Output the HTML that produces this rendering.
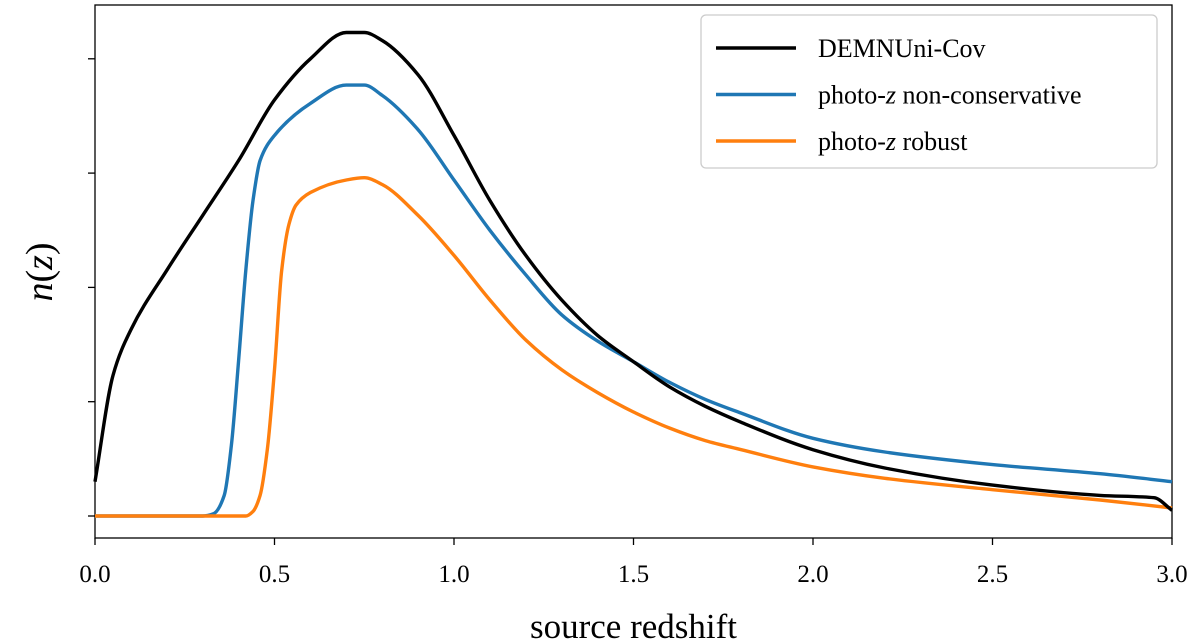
<!DOCTYPE html>
<html><head><meta charset="utf-8"><style>
html,body{margin:0;padding:0;background:#fff}
svg{display:block;font-family:"Liberation Serif",serif}
</style></head><body>
<svg id="chart" width="1200" height="644"></svg>
<script>
const zBlack=[0,0.05,0.1,0.2,0.3,0.4,0.5,0.6,0.7,0.75,0.8,0.9,1.0,1.1,1.2,1.3,1.4,1.5,1.6,1.7,1.8,2.0,2.2,2.5,2.8,2.95,3.0];
const nBlack=[0.30,1.23,1.63,2.15,2.63,3.11,3.64,4.0,4.23,4.23,4.16,3.86,3.33,2.76,2.28,1.89,1.58,1.35,1.13,0.96,0.82,0.58,0.42,0.27,0.18,0.16,0.05];
const zBlue=[0,0.3,0.33,0.36,0.38,0.4,0.42,0.44,0.46,0.5,0.6,0.7,0.75,0.8,0.9,1.0,1.1,1.2,1.3,1.4,1.5,1.6,1.7,1.8,2.0,2.2,2.5,2.8,3.0];
const nBlue=[0,0,0.02,0.18,0.62,1.36,2.15,2.76,3.11,3.33,3.61,3.77,3.77,3.68,3.38,2.94,2.50,2.11,1.76,1.53,1.35,1.17,1.02,0.90,0.68,0.56,0.45,0.37,0.30];
const zOrange=[0,0.42,0.44,0.46,0.48,0.5,0.52,0.54,0.56,0.6,0.7,0.75,0.8,0.9,1.0,1.1,1.2,1.3,1.4,1.5,1.6,1.7,1.8,2.0,2.2,2.5,2.8,3.0];
const nOrange=[0,0,0.04,0.18,0.58,1.28,2.15,2.55,2.72,2.83,2.94,2.96,2.90,2.63,2.28,1.89,1.54,1.28,1.08,0.91,0.77,0.66,0.58,0.43,0.33,0.23,0.14,0.07];
const xTicks=[0,0.5,1.0,1.5,2.0,2.5,3.0];
const xTickLabels=["0.0","0.5","1.0","1.5","2.0","2.5","3.0"];
const yTicks=[0,1,2,3,4];

const svg=document.getElementById('chart');
const NS='http://www.w3.org/2000/svg';
const L=95,R=1172,T=5,B=538;
const X=v=>L+(v-0)/(3-0)*(R-L);
const Y=v=>516-v*114.3;
function mk(tag,attrs,parent){const e=document.createElementNS(NS,tag);for(const k in attrs)e.setAttribute(k,attrs[k]);(parent||svg).appendChild(e);return e;}

const frame=mk('rect',{x:L,y:T,width:R-L,height:B-T,fill:'none',stroke:'#000','stroke-width':1.3});



xTicks.forEach((t,i)=>{
  const ln=mk('line',{x1:X(t),x2:X(t),y1:B,y2:B+7,stroke:'#000','stroke-width':1.3});
  
  
  const tx=mk('text',{x:X(t),y:B+44,'text-anchor':'middle','font-size':25});
  tx.textContent=xTickLabels[i];
  
  
});
yTicks.forEach(t=>{
  const ln=mk('line',{x1:L-7,x2:L,y1:Y(t),y2:Y(t),stroke:'#000','stroke-width':1.3});
  
  
});

function series(zs,ns,color,name){
  const px=zs.map(X), py=ns.map(Y), n=px.length;
  const dx=[],s=[];
  for(let i=0;i<n-1;i++){dx.push(px[i+1]-px[i]);s.push((py[i+1]-py[i])/dx[i]);}
  const m=new Array(n);
  m[0]=s[0];m[n-1]=s[n-2];
  for(let i=1;i<n-1;i++){
    if(s[i-1]*s[i]<=0)m[i]=0;
    else{const w1=2*dx[i]+dx[i-1],w2=dx[i]+2*dx[i-1];m[i]=(w1+w2)/(w1/s[i-1]+w2/s[i]);}
  }
  let d='M'+px[0].toFixed(1)+','+py[0].toFixed(1);
  for(let i=0;i<n-1;i++){
    const h=dx[i]/3;
    d+=' C'+(px[i]+h).toFixed(1)+','+(py[i]+m[i]*h).toFixed(1)+' '+(px[i+1]-h).toFixed(1)+','+(py[i+1]-m[i+1]*h).toFixed(1)+' '+px[i+1].toFixed(1)+','+py[i+1].toFixed(1);
  }
  const p=mk('path',{d:d,fill:'none',stroke:color,'stroke-width':3.4,'stroke-linejoin':'round'});
  
  
}
series(zBlue,nBlue,'#1f77b4','line-photoz-non-conservative');
series(zOrange,nOrange,'#ff7f0e','line-photoz-robust');
series(zBlack,nBlack,'#000000','line-demnuni-cov');

const xl=mk('text',{x:(L+R)/2,y:638,'text-anchor':'middle','font-size':35});
xl.textContent='source redshift';


const yl=mk('text',{x:0,y:0,'text-anchor':'middle','font-size':38,transform:'translate(52,272) rotate(-90)'});
yl.innerHTML='<tspan font-style="italic">n</tspan>(<tspan font-style="italic">z</tspan>)';



const lg=mk('g',{});


mk('rect',{x:701,y:15,width:456,height:153,rx:5,fill:'#fff',stroke:'#ccc','stroke-width':1.3},lg);
const entries=[['#000000','DEMNUni-Cov',null],['#1f77b4','photo-','non-conservative'],['#ff7f0e','photo-','robust']];
entries.forEach((e,i)=>{
  const y=48+i*46.5;
  const g=mk('g',{},lg);
  
  
  mk('line',{x1:716,x2:796,y1:y,y2:y,stroke:e[0],'stroke-width':3.4},g);
  const t=mk('text',{x:818,y:y+9,'font-size':26},g);
  if(e[2]) t.innerHTML=e[1]+'<tspan font-style="italic">z</tspan> '+e[2];
  else t.textContent=e[1];
});
</script>
</body></html>
